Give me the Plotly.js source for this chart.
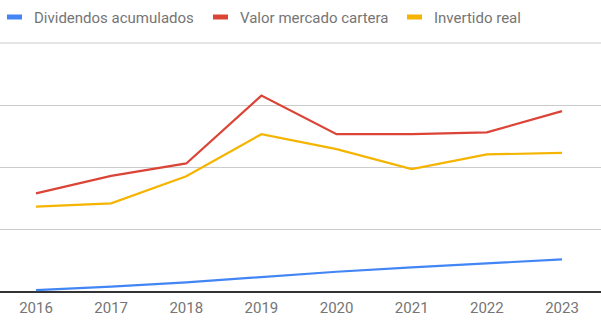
<!DOCTYPE html>
<html>
<head>
<meta charset="utf-8">
<script src="https://cdn.plot.ly/plotly-3.0.1.min.js"></script>
<style>html,body{margin:0;padding:0;background:#fff;}#chart{width:601px;height:326px;}</style>
</head>
<body>
<div id="chart"></div>
<script>
const years = ["2016","2017","2018","2019","2020","2021","2022","2023"];
const seriesNames = ["Dividendos acumulados","Valor mercado cartera","Invertido real"];
const dividendos = [0.03,0.085,0.155,0.245,0.325,0.395,0.46,0.525];
const valorMercado = [1.585,1.865,2.065,3.155,2.535,2.535,2.565,2.905];
const invertido = [1.37,1.425,1.86,2.535,2.295,1.975,2.21,2.235];
const colors = ["#4285F4","#DB4437","#F4B400"];

const allSeries = [dividendos, valorMercado, invertido];
const traces = allSeries.map((vals,i)=>({
  type:"scatter", mode:"lines", x:years, y:vals, name:seriesNames[i],
  line:{color:colors[i], width:2.2}, hoverinfo:"x+y+name"
}));

// custom Google-style legend
const W = 601, PH = 249, BOT = 292;
const legendX = [7, 213, 407];
const shapes = [];
const annotations = [];
seriesNames.forEach((n,i)=>{
  shapes.push({type:"rect", xref:"paper", yref:"paper",
    x0:legendX[i]/W, x1:(legendX[i]+15)/W, y0:(BOT-19.5)/PH, y1:(BOT-14.5)/PH,
    fillcolor:colors[i], line:{width:0}});
  annotations.push({xref:"paper", yref:"paper", x:(legendX[i]+25)/W, y:(BOT-17.5)/PH,
    xanchor:"left", yanchor:"middle", showarrow:false, text:n,
    font:{family:"Roboto", size:15, color:"#757575"}});
});
// top gridline at the range edge
shapes.push({type:"line", xref:"paper", yref:"paper", x0:0, x1:1, y0:1, y1:1,
  layer:"above", line:{color:"#cccccc", width:1}});

const layout = {
  width:601, height:326,
  margin:{l:0, r:0, t:43, b:34},
  paper_bgcolor:"#fff", plot_bgcolor:"#fff",
  showlegend:false,
  xaxis:{type:"category", range:[-0.479,7.519], showgrid:false, zeroline:false,
    showline:false, ticks:"", ticklabelstandoff:5,
    tickfont:{family:"Roboto", size:15, color:"#757575"}},
  yaxis:{range:[0,4], dtick:1, showgrid:true, gridcolor:"#cccccc", gridwidth:1,
    showticklabels:false, zeroline:true, zerolinecolor:"#333333", zerolinewidth:1.5, fixedrange:true},
  shapes:shapes, annotations:annotations,
  font:{family:"Roboto"}
};
Plotly.newPlot("chart", traces, layout, {staticPlot:true, displayModeBar:false});
</script>
</body>
</html>
